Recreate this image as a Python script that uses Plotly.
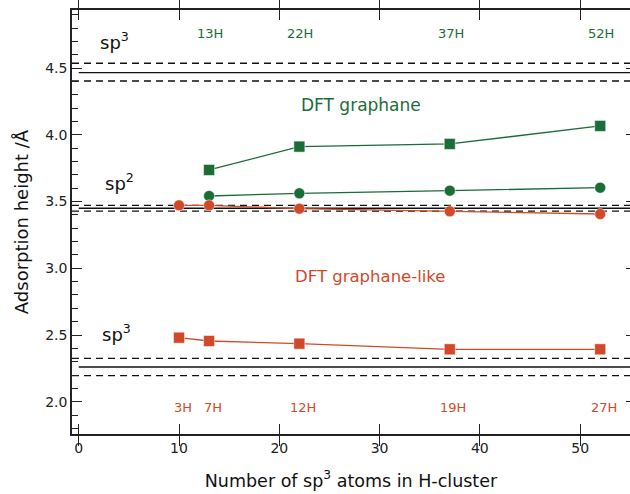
import plotly.graph_objects as go

# ---- data ----
x_graphane = [13, 22, 37, 52]
y_graphane_sq = [3.737, 3.912, 3.932, 4.067]
y_graphane_ci = [3.542, 3.562, 3.582, 3.604]

x_like = [10, 13, 22, 37, 52]
y_like_ci = [3.472, 3.472, 3.447, 3.427, 3.407]
y_like_sq = [2.480, 2.455, 2.435, 2.393, 2.393]

labels_graphane = ["13H", "22H", "37H", "52H"]
labels_like = ["3H", "7H", "12H", "19H", "27H"]

ref_levels = [4.466, 3.450, 2.260]          # solid reference lines
ref_bands = [(4.404, 4.537), (3.428, 3.471), (2.195, 2.325)]  # dashed bounds
ref_labels = ["sp<sup>3</sup>", "sp<sup>2</sup>", "sp<sup>3</sup>"]

y_ticks = [2.0, 2.5, 3.0, 3.5, 4.0, 4.5]
x_ticks = [0, 10, 20, 30, 40, 50]

GREEN = "#1b6d37"
ORANGE = "#d2492a"
FONT = "DejaVu Sans"

XR = [-0.67, 54.97]
YR = [1.758, 4.936]

fig = go.Figure()

# reference lines
for lvl, (lo, hi) in zip(ref_levels, ref_bands):
    fig.add_trace(go.Scatter(x=[0, XR[1]], y=[lvl, lvl], mode="lines",
                             line=dict(color="#111", width=1.3), hoverinfo="skip", showlegend=False))
    for v in (lo, hi):
        fig.add_trace(go.Scatter(x=[XR[0], XR[1]], y=[v, v], mode="lines",
                                 line=dict(color="#111", width=1.3, dash="7px,5px"),
                                 hoverinfo="skip", showlegend=False))

def series(x, y, color, symbol, size):
    fig.add_trace(go.Scatter(x=x, y=y, mode="lines+markers",
                             line=dict(color=color, width=1.3),
                             marker=dict(symbol=symbol, size=size, color=color,
                                         line=dict(color="white", width=0.5)),
                             showlegend=False))

series(x_graphane, y_graphane_sq, GREEN, "square", 11)
series(x_graphane, y_graphane_ci, GREEN, "circle", 11)
series(x_like, y_like_ci, ORANGE, "circle", 11)
series(x_like, y_like_sq, ORANGE, "square", 11)

ann = []
# sp labels
for txt, (ax, ay) in zip(ref_labels, [(3.6, 4.70), (4.1, 3.65), (3.8, 2.515)]):
    ann.append(dict(x=ax, y=ay, text=txt, showarrow=False,
                    font=dict(family=FONT, size=18, color="#111")))
ann.append(dict(x=28.1, y=4.225, text="DFT graphane", showarrow=False,
                font=dict(family=FONT, size=17, color=GREEN)))
ann.append(dict(x=29.1, y=2.935, text="DFT graphane-like", showarrow=False,
                font=dict(family=FONT, size=16.5, color=ORANGE)))
for xv, t in zip(x_graphane, labels_graphane):
    ann.append(dict(x=xv + 0.1, y=4.763, text=t, showarrow=False,
                    font=dict(family=FONT, size=13, color=GREEN)))
for xv, t in zip(x_like, labels_like):
    ann.append(dict(x=xv + 0.35, y=1.96, text=t, showarrow=False,
                    font=dict(family=FONT, size=13, color=ORANGE)))

fig.update_layout(
    width=630, height=494,
    margin=dict(l=72, r=0, t=10, b=60),
    paper_bgcolor="white", plot_bgcolor="white",
    font=dict(family=FONT, size=14, color="#222"),
    annotations=ann,
    xaxis=dict(range=XR, tickvals=x_ticks, ticks="inside", ticklen=10, tickwidth=1.2,
               tickcolor="#222", showline=True, linecolor="#222", linewidth=1.5,
               mirror="allticks", showgrid=False, zeroline=False, automargin=False,
               tickfont=dict(family=FONT, size=14, color="#222"),
               title=dict(text="Number of sp<sup>3</sup> atoms in H-cluster",
                          font=dict(family=FONT, size=17.5, color="#111"), standoff=20)),
    yaxis=dict(range=YR, tickvals=y_ticks, ticktext=[f"{v:.1f}" for v in y_ticks],
               ticks="inside", ticklen=10, tickwidth=1.2, tickcolor="#222",
               minor=dict(dtick=0.1, tick0=0, ticks="inside", ticklen=6, tickwidth=1.2,
                          tickcolor="#222", showgrid=False),
               showline=True, linecolor="#222", linewidth=1.5, automargin=False,
               showgrid=False, zeroline=False,
               tickfont=dict(family=FONT, size=14, color="#222"),
               title=dict(text="Adsorption height /Å",
                          font=dict(family=FONT, size=18, color="#111"), standoff=12)),
    yaxis2=dict(range=YR, overlaying="y", side="right", tickvals=y_ticks,
                showticklabels=False, ticks="inside", ticklen=4, tickwidth=1.2,
                tickcolor="#222", showline=False, showgrid=False, zeroline=False,
                automargin=False),
)
# dummy trace to activate yaxis2
fig.add_trace(go.Scatter(x=[XR[0]], y=[YR[0]], yaxis="y2", mode="markers",
                         marker=dict(opacity=0), hoverinfo="skip", showlegend=False))

fig.write_html("out.html", config={"displayModeBar": False},
               post_script="document.body.style.margin='0';document.body.style.overflow='hidden';")
